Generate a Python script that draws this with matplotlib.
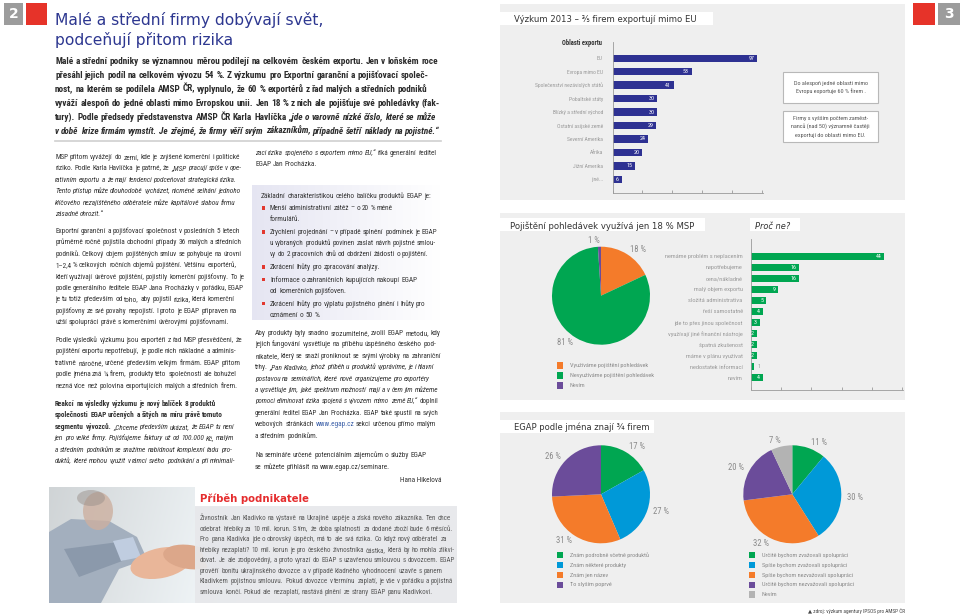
import matplotlib
matplotlib.use('Agg')
import matplotlib.pyplot as plt
import numpy as np
from matplotlib.font_manager import FontProperties, fontManager
from matplotlib.patches import Rectangle, Ellipse, Polygon

# ---- data ----
export_areas = ['EU', 'Evropa mimo EU', 'Společenství nezávislých států', 'Pobaltské státy',
                'Blízký a střední východ', 'Ostatní asijské země', 'Severní Amerika',
                'Afrika', 'Jižní Amerika', 'jiné...']
export_share = [97, 53, 41, 30, 30, 29, 24, 20, 15, 6]

why_not = ['nemáme problém s neplacením', 'nepotřebujeme', 'cena/nákladné', 'malý objem exportu',
           'složitá administrativa', 'řeší samostatně', 'jde to přes jinou společnost',
           'využívají jiné finanční nástroje', 'špatná zkušenost', 'máme v plánu využívat',
           'nedostatek informací', 'nevím']
why_not_n = [44, 16, 16, 9, 5, 4, 3, 2, 2, 2, 1, 4]

insure_labels = ['Využíváme pojištění pohledávek', 'Nevyužíváme pojištění pohledávek', 'Nevím']
insure_share = [18, 81, 1]

know_labels = ['Znám podrobně včetně produktů', 'Znám některé produkty', 'Znám jen název', 'To slyším poprvé']
know_share = [17, 27, 31, 26]

coop_labels = ['Určitě bychom zvažovali spolupráci', 'Spíše bychom zvažovali spolupráci',
               'Spíše bychom nezvažovali spolupráci', 'Určitě bychom nezvažovali spolupráci', 'Nevím']
coop_share = [11, 30, 32, 20, 7]

# texty (| = kurziva, * = tucne, @ = odkaz)
intro = [
    "Malé a střední podniky se významnou měrou podílejí na celkovém českém exportu. Jen v loňském roce",
    "přesáhl jejich podíl na celkovém vývozu 54 %. Z výzkumu pro Exportní garanční a pojišťovací společ-",
    "nost, na kterém se podílela AMSP ČR, vyplynulo, že 60 % exportérů z řad malých a středních podniků",
    "vyváží alespoň do jedné oblasti mimo Evropskou unii. Jen 18 % z nich ale pojišťuje své pohledávky (fak-",
    "tury).  Podle předsedy představenstva AMSP ČR Karla Havlíčka |„jde o varovně nízké číslo, které se může",
    "v době krize firmám vymstít. Je zřejmé, že firmy věří svým zákazníkům, případně šetří náklady na pojistné.“",
]
left_col = [
    ["MSP přitom vyvážejí do zemí, kde je zvýšené komerční i politické",
     "riziko. Podle Karla Havlíčka je patrné, že |„MSP pracují spíše v ope-",
     "rativním exportu a že mají tendenci podceňovat strategická rizika.",
     "Tento přístup může dlouhodobě vycházet, nicméně selhání jednoho",
     "klíčového nezajištěného odběratele může kapitálově slabou firmu",
     "zásadně ohrozit.“|"],
    ["Exportní garanční a pojišťovací společnost v posledních 5 letech",
     "průměrně ročně pojistila obchodní případy 36 malých a středních",
     "podniků. Celkový objem pojištěných smluv se pohybuje na úrovni",
     "1–2,4 % celkových ročních objemů pojištění. Většinu exportérů,",
     "kteří využívají úvěrové pojištění, pojistily komerční pojišťovny. To je",
     "podle generálního ředitele EGAP Jana Procházky v pořádku, EGAP",
     "je tu totiž především od toho, aby pojistil rizika, která komerční",
     "pojišťovny ze své povahy nepojistí. I proto je EGAP připraven na",
     "užší spolupráci právě s komerčními úvěrovými pojišťovnami."],
    ["Podle výsledků výzkumu jsou exportéři z řad MSP přesvědčeni, že",
     "pojištění exportu nepotřebují, je podle nich nákladné a adminis-",
     "trativně náročné, určené především velkým firmám. EGAP přitom",
     "podle jména zná ¼ firem, produkty této společnosti ale bohužel",
     "nezná více než polovina exportujících malých a středních firem."],
    ["*Reakcí na výsledky výzkumu je nový balíček 8 produktů",
     "společnosti EGAP určených a šitých na míru právě tomuto",
     "segmentu vývozců.* |„Chceme především ukázat, že EGAP tu není",
     "jen pro velké firmy. Pojišťujeme faktury už od 100.000 Kč, malým",
     "a středním podnikům se snažíme nabídnout komplexní řadu pro-",
     "duktů, které mohou využít v rámci svého podnikání a při minimali-"],
]
left_y = [157, 231, 340, 404]

right_top = ["|zaci rizika spojeného s exportem mimo EU,“| říká generální ředitel",
             "EGAP Jan Procházka."]
box_head = "Základní charakteristikou celého balíčku produktů EGAP je:"
bullets = [
    ["Menší administrativní zátěž – o 20 % méně", "formulářů."],
    ["Zrychlení projednání – v případě splnění podmínek je EGAP",
     "u vybraných produktů povinen zaslat návrh pojistné smlou-",
     "vy do 2 pracovních dnů od obdržení žádosti o pojištění."],
    ["Zkrácení lhůty pro zpracování analýzy."],
    ["Informace o zahraničních kupujících nakoupí EGAP", "od komerčních pojišťoven."],
    ["Zkrácení lhůty pro výplatu pojistného plnění i lhůty pro", "oznámení o 50 %."],
]
right_after = [
    "Aby produkty byly snadno srozumitelné, zvolil EGAP metodu, kdy",
    "jejich fungování vysvětluje na příběhu úspěšného českého pod-",
    "nikatele, který se snaží proniknout se svými výrobky na zahraniční",
    "trhy. |„Pan Kladivko, jehož příběh u produktů vyprávíme, je i hlavní",
    "postavou na seminářích, které nově organizujeme pro exportéry",
    "a vysvětluje jim, jaké spektrum možností mají a v čem jim můžeme",
    "pomoci eliminovat rizika spojená s vývozem mimo země EU,“| doplnil",
    "generální ředitel EGAP Jan Procházka. EGAP také spustil na svých",
    "webových stránkách @www.egap.cz@ sekci určenou přímo malým",
    "a středním podnikům.",
]
seminar = ["*Na semináře určené potenciálním zájemcům o služby EGAP",
           "se můžete přihlásit na www.egap.cz/seminare.*"]
story = [
    "Živnostník Jan Kladivko na výstavě na Ukrajině uspěje a získá nového zákazníka. Ten chce",
    "odebrat hřebíky za 10 mil. korun. S tím, že doba splatnosti za dodané zboží bude 6 měsíců.",
    "Pro pana Kladivka jde o obrovský úspěch, má to ale svá rizika. Co když nový odběratel za",
    "hřebíky nezaplatí? 10 mil. korun je pro českého živnostníka částka, která by ho mohla zlikvi-",
    "dovat. Je ale zodpovědný, a proto vyrazí do EGAP s uzavřenou smlouvou s dovozcem. EGAP",
    "prověří bonitu ukrajinského dovozce a v případě kladného vyhodnocení uzavře s panem",
    "Kladivkem pojistnou smlouvu. Pokud dovozce v termínu zaplatí, je vše v pořádku a pojistná",
    "smlouva končí. Pokud ale nezaplatí, nastává plnění ze strany EGAP panu Kladivkovi.",
]

NAVY = '#2e3192'
GREEN = '#00a651'
ORANGE = '#f47b2a'
PURPLE = '#6b4c9a'
BLUE = '#0099d8'
GREY = '#b3b3b3'
RED = '#e63329'
PANEL = '#efefef'
TXT = '#333333'
LINK = '#3b5fa8'

# uzsi pismo, pokud je k dispozici
NARROW, STRETCH, NS = 'Liberation Sans', 'normal', 0.82
entries = [(f.name, str(f.stretch)) for f in fontManager.ttflist]
for fam in ['Liberation Sans Narrow', 'Roboto Condensed', 'Open Sans Condensed',
            'Noto Sans', 'DejaVu Sans', 'Open Sans', 'Roboto']:
    hit = [st for n, st in entries if n == fam and
           ('Narrow' in fam or 'Condensed' in fam or 'condensed' in st)]
    if hit:
        NARROW = fam
        STRETCH = 'normal' if ('Narrow' in fam or 'Condensed' in fam) else hit[0]
        NS = 1.0
        break
FAM = [NARROW, 'DejaVu Sans']
plt.rcParams['font.family'] = FAM
plt.rcParams['font.stretch'] = STRETCH

W, H = 960, 615
fig = plt.figure(figsize=(9.6, 6.15), dpi=100)
R = fig.canvas.get_renderer()

ax0 = fig.add_axes([0, 0, 1, 1], zorder=2)
ax0.set_xlim(0, W)
ax0.set_ylim(H, 0)
ax0.axis('off')


def px_axes(x0, y0, x1, y1, z=3):
    a = fig.add_axes([x0 / W, 1 - y1 / H, (x1 - x0) / W, (y1 - y0) / H], zorder=z)
    a.patch.set_alpha(0)
    return a


def tw(s, prop):
    return R.get_text_width_height_descent(s, prop, ismath=False)[0]


def font(size, st=None):
    st = st or {}
    return FontProperties(family=FAM, size=size, stretch=STRETCH,
                          style='italic' if st.get('i') else 'normal',
                          weight='bold' if st.get('b') else 'normal')


MARKS = {'|': 'i', '*': 'b', '@': 'l'}


def make_rows(lines, bold=False):
    # radek -> useky se stejnym stylem, kazdy usek = seznam slov
    st = dict(i=False, b=bold, l=False)
    rows = []
    for line in lines:
        runs = []
        for w in line.split():
            while w and w[0] in MARKS:
                st[MARKS[w[0]]] = not st[MARKS[w[0]]]
                w = w[1:]
            tail = ''
            while w and w[-1] in MARKS:
                tail += w[-1]
                w = w[:-1]
            if runs and runs[-1][1] == st:
                runs[-1][0].append(w)
            else:
                runs.append([[w], dict(st)])
            for m in tail:
                st[MARKS[m]] = not st[MARKS[m]]
        rows.append(runs)
    return rows


def space(size):
    p = font(size)
    return tw('n n', p) - tw('nn', p)


def nat_width(row, size):
    return sum(tw(' '.join(ws), font(size, s)) for ws, s in row) + space(size) * (len(row) - 1)


def ratios(rows, width, size):
    use = rows if len(rows) == 1 else rows[:-1]
    return [width / nat_width(r, size) for r in use]


def draw_rows(x, y, rows, size, lh, color=TXT, width=None):
    for k, row in enumerate(rows):
        sz = size
        if width is not None:
            nw = nat_width(row, size)
            if nw > width:
                sz = size * width / nw * 0.99
        cx = x
        for words, s in row:
            p = font(sz, s)
            for i, w in enumerate(words):
                off = tw(' '.join(words[:i + 1]), p) - tw(w, p)
                ax0.text(cx + off, y + k * lh, w, fontproperties=p,
                         color=LINK if s['l'] else color, va='baseline', ha='left')
            cx += tw(' '.join(words), p) + space(sz)


def fit_text(x, y, s, width, family='DejaVu Sans', size=None, **kw):
    prop = FontProperties(family=[family, 'DejaVu Sans'], size=10, stretch='normal',
                          style=kw.pop('style', 'normal'), weight=kw.pop('weight', 'normal'))
    if size is None:
        size = 10 * width / tw(s, prop)
    prop.set_size(size)
    ax0.text(x, y, s, fontproperties=prop, va='baseline', **kw)
    return size


# ---- levá strana ----
ax0.add_patch(Rectangle((4, 3), 19, 22, fc='#9c9c9c', ec='none'))
ax0.text(13.5, 14.5, '2', color='white', fontsize=10, fontweight='bold',
         family='DejaVu Sans', ha='center', va='center')
ax0.add_patch(Rectangle((26, 3), 21, 22, fc=RED, ec='none'))

ts = fit_text(55, 25, 'Malé a střední firmy dobývají svět,', 270, color='#2d3790')
fit_text(55, 45, 'podceňují přitom rizika', None, size=ts, color='#2d3790')

intro_rows = make_rows(intro, bold=True)
isz = 6.5 * np.percentile([386 / nat_width(r, 6.5) for r in intro_rows], 15)
draw_rows(55, 63.5, intro_rows, isz, 14, color='#2b2b2b', width=386)

ax0.plot([55, 441], [141, 141], color='#cfcfcf', lw=1.2)

left_rows = [make_rows(p) for p in left_col]
rt_rows = make_rows(right_top)
ra_rows = make_rows(right_after)
rr = []
for r in left_rows:
    rr += ratios(r, 191, 5)
rr += ratios(rt_rows, 186, 5) + ratios(ra_rows, 186, 5)
bsz = 5 * np.percentile(rr, 15)

for rows, y0 in zip(left_rows, left_y):
    draw_rows(55, y0 + 2, rows, bsz, 11.4, width=191)

draw_rows(255, 155, rt_rows, bsz, 11.4, width=186)

# rámeček s výčtem
grad = np.linspace(0, 1, 64)[None, :]
ax0.imshow(np.dstack([0.90 + 0.10 * grad, 0.90 + 0.10 * grad, 0.95 + 0.05 * grad]),
           extent=(252, 441, 320, 185), aspect='auto', zorder=0.5)
ax0.set_xlim(0, W)
ax0.set_ylim(H, 0)
draw_rows(261, 198, make_rows([box_head]), bsz, 11.2, width=178)
by = 209.7
for item in bullets:
    ax0.add_patch(Rectangle((261.5, by - 3.6), 3.4, 3.4, fc='#e2382f', ec='none'))
    draw_rows(270, by, make_rows(item), bsz, 11.2, width=168)
    by += 11.2 * len(item) + 1.6

draw_rows(255, 335, ra_rows, bsz, 11.4, width=186)
draw_rows(255, 457, make_rows(seminar, bold=True), bsz, 11.6, width=186)
ax0.text(441, 482, 'Hana Hikelová', fontproperties=font(bsz), color=TXT, ha='right', va='baseline')

# fotka
axp = px_axes(49, 487, 250, 603, z=1)
axp.set_xlim(0, 201)
axp.set_ylim(116, 0)
axp.axis('off')
gx = np.linspace(0, 1, 90)[None, :]
gy = np.linspace(0, 1, 60)[:, None]
shade = 0.84 + 0.14 * gx + 0.02 * gy
axp.imshow(np.dstack([shade * 0.97, shade * 0.99, shade * 1.0]).clip(0, 1),
           extent=(0, 201, 116, 0), aspect='auto')
axp.add_patch(Polygon([(0, 45), (22, 32), (60, 34), (88, 50), (98, 72), (70, 82), (52, 116), (0, 116)],
                      fc='#a3afbe', ec='none'))
axp.add_patch(Polygon([(15, 62), (70, 55), (84, 70), (30, 90)], fc='#8b99ab', ec='none'))
axp.add_patch(Ellipse((49, 24), 30, 38, fc='#cdb0a0', ec='none', alpha=0.8))
axp.add_patch(Ellipse((42, 11), 28, 16, fc='#9a918c', ec='none', alpha=0.5))
axp.add_patch(Polygon([(64, 54), (84, 50), (92, 70), (72, 74)], fc='#c0cde0', ec='none'))
axp.add_patch(Ellipse((112, 76), 62, 30, angle=-12, fc='#e9b699', ec='none'))
axp.add_patch(Ellipse((140, 70), 52, 24, angle=8, fc='#dca78a', ec='none'))
axp.add_patch(Polygon([(150, 58), (201, 46), (201, 92), (160, 84)], fc='#cfd6df', ec='none'))

ax0.add_patch(Rectangle((195, 486), 60, 21, fc='white', ec='none'))
fit_text(200, 502, 'Příběh podnikatele', 109, weight='bold', color='#e52d2e')
ax0.add_patch(Rectangle((195, 506), 262, 97, fc='#e7e8eb', ec='none', alpha=0.93))
story_rows = make_rows(story)
ssz = bsz * min(254 / nat_width(r, bsz) for r in story_rows)
draw_rows(200, 520, story_rows, ssz, 10.57, color='#5a5a5a')

# ---- pravá strana ----
ax0.add_patch(Rectangle((913, 3), 22, 22, fc=RED, ec='none'))
ax0.add_patch(Rectangle((938, 3), 22, 22, fc='#9c9c9c', ec='none'))
ax0.text(949, 14.5, '3', color='white', fontsize=10, fontweight='bold',
         family='DejaVu Sans', ha='center', va='center')

for y0, y1 in [(4, 200), (213, 400), (412, 603)]:
    ax0.add_patch(Rectangle((500, y0), 405, y1 - y0, fc=PANEL, ec='none', zorder=0.2))
for x0, y0, x1, y1 in [(500, 12, 713, 24.5), (500, 218, 705, 231), (750, 218, 800, 231),
                       (500, 420, 654, 432.5)]:
    ax0.add_patch(Rectangle((x0, y0), x1 - x0, y1 - y0, fc='white', ec='none', zorder=0.3))
fit_text(514, 22.3, 'Výzkum 2013 – ⅗ firem exportují mimo EU', 181, color='#333333')
fit_text(510, 228.8, 'Pojištění pohledávek využívá jen 18 % MSP', 183, color='#333333')
fit_text(755, 228.8, 'Proč ne?', 35, style='italic', color='#333333')
fit_text(514, 430.3, 'EGAP podle jména znají ¾ firem', 134, color='#333333')

# oblasti exportu
ax1 = px_axes(612.7, 42, 763, 193)
pos1 = np.arange(len(export_areas))
ax1.barh(pos1, export_share, height=0.56, color=NAVY)
ax1.set_xlim(0, 100.9)
ax1.set_ylim(10.02, -1.21)
ax1.set_yticks(pos1, export_areas)
ax1.set_xticks(np.arange(0, 101, 20))
ax1.tick_params(axis='y', length=0, pad=7, labelsize=4.1 * NS, labelcolor='#9a9a9a')
ax1.tick_params(axis='x', direction='in', length=2.5, width=0.6, color='#9a9a9a', labelbottom=False)
for v, p in zip(export_share, pos1):
    ax1.annotate(str(v), (v, p), xytext=(-2, 0), textcoords='offset points', ha='right',
                 va='center', color='white', fontsize=4.3 * NS)
ax0.text(602, 45, 'Oblasti exportu', fontproperties=font(4.7 * NS, dict(b=True)), color='#333333',
         ha='right', va='baseline')

for x0, y0, x1, y1, lines in [(783, 72, 878, 103, ['Do alespoň jedné oblasti mimo', 'Evropu exportuje 60 % firem .']),
                              (783, 111, 878, 142, ['Firmy s vyšším počtem zaměst-', 'nanců (nad 50) významně častěji',
                                                    'exportují do oblasti mimo EU.'])]:
    ax0.add_patch(Rectangle((x0, y0), x1 - x0, y1 - y0, fc='white', ec='#b8b8b8', lw=0.8))
    top = (y0 + y1) / 2 - 4.2 * (len(lines) - 1)
    for k, s in enumerate(lines):
        ax0.text((x0 + x1) / 2, top + 8.4 * k + 1.6, s, fontsize=4.4 * NS, color='#555555',
                 ha='center', va='baseline')

# proč ne
ax2 = px_axes(750.7, 239, 903, 389.5)
pos2 = np.arange(len(why_not))
ax2.barh(pos2, why_not_n, height=0.66, color=GREEN)
ax2.set_xlim(0, 50.25)
ax2.set_ylim(12.07, -1.57)
ax2.set_yticks(pos2, why_not)
ax2.set_xticks(np.arange(0, 51, 10))
ax2.tick_params(axis='y', length=0, pad=5.8, labelsize=4.6 * NS, labelcolor='#9a9a9a')
ax2.tick_params(axis='x', direction='in', length=2.5, width=0.6, color='#9a9a9a', labelbottom=False)
for v, p in zip(why_not_n, pos2):
    if v > 1.5:
        ax2.annotate(str(v), (v, p), xytext=(-2, 0), textcoords='offset points', ha='right',
                     va='center', color='white', fontsize=4.3 * NS)
    else:
        ax2.annotate(str(v), (v, p), xytext=(3, 0), textcoords='offset points', ha='left',
                     va='center', color='#9a9a9a', fontsize=4.3 * NS)

for a in (ax1, ax2):
    for s in ['top', 'right']:
        a.spines[s].set_visible(False)
    for s in ['left', 'bottom']:
        a.spines[s].set_color('#9a9a9a')
        a.spines[s].set_linewidth(0.6)


def pie_at(cx, cy, r, vals, cols):
    a = px_axes(cx - r, cy - r, cx + r, cy + r)
    a.pie(vals, colors=cols, startangle=90, counterclock=False,
          labels=[f'{v} %' for v in vals], labeldistance=1.12,
          textprops=dict(color='#8a8a8a', fontsize=6.2 * NS), wedgeprops=dict(linewidth=0))
    a.set_xlim(-1, 1)
    a.set_ylim(-1, 1)
    return a


def legend_block(x, y, labels, cols, step):
    for k, (lab, c) in enumerate(zip(labels, cols)):
        ax0.add_patch(Rectangle((x - 3.2, y + k * step - 3.2), 6.4, 6.4, fc=c, ec='none'))
        ax0.text(x + 10, y + k * step + 1.6, lab, fontsize=4.5 * NS, color='#8a8a8a',
                 ha='left', va='baseline')


pie_at(601, 295.7, 49, insure_share, [ORANGE, GREEN, PURPLE])
legend_block(560, 365.3, insure_labels, [ORANGE, GREEN, PURPLE], 10)

pie_at(601, 494.3, 49, know_share, [GREEN, BLUE, ORANGE, PURPLE])
legend_block(560, 555.3, know_labels, [GREEN, BLUE, ORANGE, PURPLE], 9.85)

pie_at(792.3, 494.3, 49, coop_share, [GREEN, BLUE, ORANGE, PURPLE, GREY])
legend_block(751.7, 555.3, coop_labels, [GREEN, BLUE, ORANGE, PURPLE, GREY], 9.85)

ax0.text(905, 612.5, '▲ zdroj: výzkum agentury IPSOS pro AMSP ČR', fontsize=3.8 * NS,
         color='#444444', ha='right', va='baseline')

fig.savefig('out.png', dpi=100, facecolor='white')
